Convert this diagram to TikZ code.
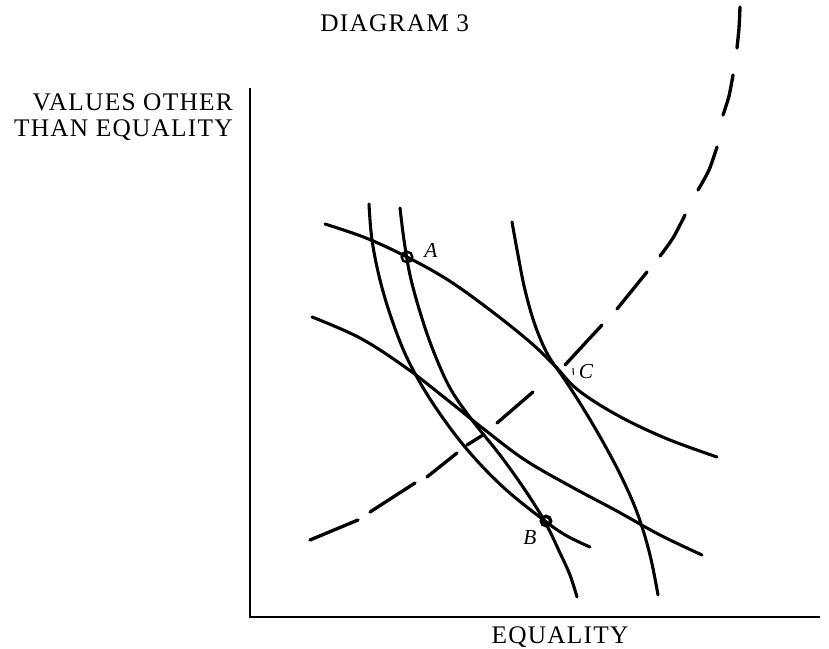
\documentclass[tikz,border=0pt]{standalone}
\usepackage{fontspec}
\setmainfont{Liberation Serif}
\newfontfamily\spacedserif[LetterSpace=5]{Liberation Serif}
\begin{document}
\begin{tikzpicture}[x=0.75pt,y=-0.75pt,
  curve/.style={line width=2.3pt,line cap=round,line join=round},
  dsh/.style={line width=2.5pt,line cap=round},
  axis/.style={line width=1.4pt},
  lbl/.style={font=\spacedserif\fontsize{19pt}{23pt}\selectfont,inner sep=0pt},
  ptlbl/.style={font=\fontsize{16pt}{18pt}\selectfont\itshape,inner sep=0pt}]
\useasboundingbox (0,0) rectangle (829,649);
% axes
\coordinate (O) at (250,617);
\coordinate (Ytop) at (250,88);
\coordinate (Xend) at (820,617);
\draw[axis] (Ytop) -- (O) -- (Xend);
% texts
\node[lbl,anchor=base west] (title) at (320,32) {DIAGRAM 3};
\node[lbl,anchor=base east] (yl1) at (233,111) {VALUES OTHER};
\node[lbl,anchor=base east] (yl2) at (233,137) {THAN EQUALITY};
\node[lbl,anchor=base] (xl) at (560,643) {EQUALITY};
% upper flat curve (through A and C)
\draw[curve] plot[smooth,tension=0.6] coordinates {(325,224) (366,238) (407,257) (448,280) (490,310) (530,342) (555,366) (578,390) (617,415) (665,438) (717,457)};
% lower flat curve
\draw[curve] plot[smooth,tension=0.6] coordinates {(312,317) (360,338) (405,367) (445,398) (485,430) (525,460) (570,486) (615,510) (660,535) (702,555)};
% steep curve 1
\draw[curve] plot[smooth,tension=0.6] coordinates {(369,204) (372,240) (380,280) (392,320) (408,360) (432,402) (465,447) (503,487) (545,521) (567,536) (590,547)};
% steep curve 2 (through A and B)
\draw[curve] plot[smooth,tension=0.6] coordinates {(400,208) (404,240) (410,275) (420,312) (433,350) (450,388) (472,420) (500,455) (525,490) (545,522) (560,553) (570,575) (577,597)};
% steep curve 3 (through C)
\draw[curve] plot[smooth,tension=0.6] coordinates {(512,222) (518,255) (525,290) (535,325) (548,355) (565,380) (583,408) (603,442) (622,478) (638,515) (650,555) (658,595)};
% dashed curve
\draw[dsh] (310,540) -- (358,520);
\draw[dsh] (370,512) -- (415,483);
\draw[dsh] (427,477) -- (457,453);
\draw[dsh] (467,445) -- (483,435);
\draw[dsh] (497,423) -- (533,392);
\draw[dsh] (565,365) -- (602,325);
\draw[dsh] (617,309) -- (647,272);
\draw[dsh] plot[smooth] coordinates {(660,256) (673,238) (685,215)};
\draw[dsh] plot[smooth] coordinates {(698,190) (709,170) (717,147)};
\draw[dsh] plot[smooth] coordinates {(723,115) (729,96) (733,75)};
\draw[dsh] plot[smooth] coordinates {(737,48) (739,28) (740,7)};
% points
\node[circle,draw,line width=1.8pt,minimum size=8pt,inner sep=0pt] (A) at (407,257) {};
\node[ptlbl] (Alab) at (431,250) {A};
\node[circle,draw,line width=2.6pt,minimum size=7pt,inner sep=0pt] (B) at (546,521) {};
\node[ptlbl] (Blab) at (530,538) {B};
\node[ptlbl] (Clab) at (586,372) {C};
\draw[line width=0.8pt] (573,368) -- (573.4,375);
\end{tikzpicture}
\end{document}
